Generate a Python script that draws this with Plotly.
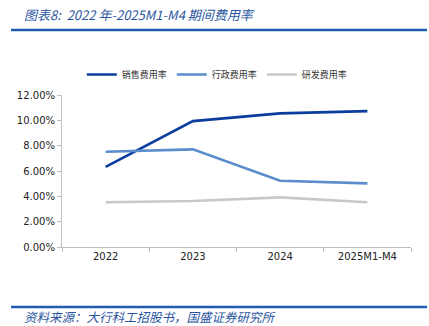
import plotly.graph_objects as go

# 期间费用率（%）
years = ["2022", "2023", "2024", "2025M1-M4"]
sales_rate = [6.33, 9.94, 10.55, 10.73]
admin_rate = [7.52, 7.71, 5.23, 5.02]
rd_rate = [3.53, 3.63, 3.92, 3.53]

series = [
    ("销售费用率", sales_rate, "#0b3d9f"),
    ("行政费用率", admin_rate, "#5b8dcd"),
    ("研发费用率", rd_rate, "#c8c8c8"),
]

fig = go.Figure()
for name, vals, color in series:
    fig.add_trace(go.Scatter(
        x=years, y=vals, name=name, mode="lines",
        line=dict(color=color, width=2.6),
    ))

tick_font = dict(family="DejaVu Sans, Verdana, sans-serif", size=10, color="#222222")

fig.update_layout(
    width=429, height=326,
    margin=dict(l=62, r=18, t=95, b=79),
    paper_bgcolor="white", plot_bgcolor="white",
    showlegend=True,
    legend=dict(
        orientation="h", x=0.445, xanchor="center", y=1.135, yanchor="middle",
        font=dict(family="Noto Sans CJK SC", size=9, color="#333333"),
        bgcolor="rgba(0,0,0,0)", itemwidth=30, tracegroupgap=0,
    ),
    xaxis=dict(
        type="category", showgrid=False, zeroline=False,
        showline=True, linecolor="#bfbfbf", linewidth=1,
        ticks="outside", tickson="boundaries", ticklen=4, tickcolor="#bfbfbf",
        tickfont=tick_font, range=[-0.5, 3.5],
    ),
    yaxis=dict(
        range=[0, 12], dtick=2, tickformat=".2f", ticksuffix="%",
        showgrid=False, zeroline=False,
        showline=True, linecolor="#bfbfbf", linewidth=1,
        ticks="outside", ticklen=4, tickcolor="#bfbfbf",
        tickfont=tick_font,
    ),
)

# 标题与来源
fig.add_annotation(
    text="<i>图表8:  2022 年-2025M1-M4 期间费用率</i>",
    xref="paper", yref="paper", x=(22 - 62) / 349, y=(247 - 15) / 152,
    xanchor="left", yanchor="middle", showarrow=False,
    font=dict(family="Noto Sans CJK SC", size=13, color="#2a56a0"),
)
fig.add_annotation(
    text="<i>资料来源：大行科工招股书，国盛证券研究所</i>",
    xref="paper", yref="paper", x=(22 - 62) / 349, y=(247 - 316) / 152,
    xanchor="left", yanchor="middle", showarrow=False,
    font=dict(family="Noto Sans CJK SC", size=12.5, color="#2a56a0"),
)

# 标题下方与来源上方的分隔线
for ypix in (30, 307):
    yp = (247 - ypix) / 152
    fig.add_shape(
        type="line", xref="paper", yref="paper",
        x0=(11 - 62) / 349, x1=(427 - 62) / 349, y0=yp, y1=yp,
        line=dict(color="#1f5bb0", width=2.5),
    )

fig.write_html("out.html")
